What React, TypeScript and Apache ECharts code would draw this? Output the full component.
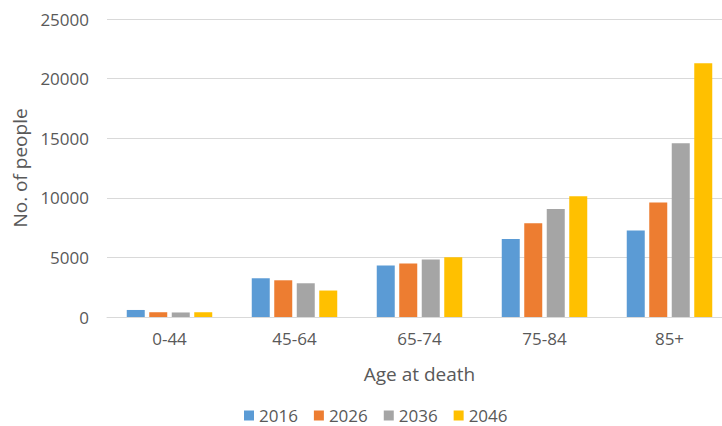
import React, { useEffect, useRef } from "react";
import * as echarts from "echarts";

const categories = ["0-44", "45-64", "65-74", "75-84", "85+"];
const seriesNames = ["2016", "2026", "2036", "2046"];
const values2016 = [590, 3250, 4310, 6540, 7250];
const values2026 = [400, 3080, 4480, 7860, 9600];
const values2036 = [380, 2830, 4820, 9060, 14570];
const values2046 = [400, 2220, 5010, 10120, 21280];
const colors = ["#5B9BD5", "#ED7D31", "#A5A5A5", "#FFC000"];
const FONT = "'Open Sans', sans-serif";

export default function App() {
  const ref = useRef<HTMLDivElement>(null);
  useEffect(() => {
    if (!ref.current) return;
    const chart = echarts.init(ref.current, undefined, { renderer: "svg" });
    const data = [values2016, values2026, values2036, values2046];
    chart.setOption({
      animation: false,
      textStyle: { fontFamily: FONT },
      grid: { left: 107, right: 0, top: 19, bottom: 109, containLabel: false },
      legend: {
        data: seriesNames,
        left: 239,
        top: 402,
        itemWidth: 10,
        itemHeight: 10,
        itemGap: 16,
        icon: "rect",
        textStyle: { color: "#595959", fontSize: 17, fontFamily: FONT },
      },
      xAxis: {
        type: "category",
        data: categories,
        name: "Age at death",
        nameLocation: "middle",
        nameGap: 47,
        nameTextStyle: { color: "#595959", fontSize: 19, fontFamily: FONT },
        axisLine: { lineStyle: { color: "#D9D9D9", width: 1 } },
        axisTick: { show: false },
        axisLabel: { color: "#595959", fontSize: 17, margin: 13, fontFamily: FONT },
      },
      yAxis: {
        type: "value",
        min: 0,
        max: 25000,
        interval: 5000,
        name: "No. of people",
        nameLocation: "middle",
        nameGap: 76,
        nameRotate: 90,
        nameTextStyle: { color: "#595959", fontSize: 19, fontFamily: FONT },
        axisLine: { show: false },
        axisTick: { show: false },
        axisLabel: {
          color: "#595959",
          fontSize: 17,
          margin: 18,
          fontFamily: FONT,
          formatter: (v: number) => String(v),
        },
        splitLine: { lineStyle: { color: "#D9D9D9", width: 1 } },
      },
      series: seriesNames.map((name, i) => ({
        name,
        type: "bar",
        data: data[i],
        barWidth: 18,
        barGap: "25%",
        itemStyle: { color: colors[i] },
      })),
    });
    return () => chart.dispose();
  }, []);
  return (
    <div
      style={{
        position: "absolute",
        left: 0,
        top: 0,
        width: 722,
        height: 426,
        overflow: "hidden",
      }}
    >
      <div ref={ref} style={{ width: 732, height: 426 }} />
    </div>
  );
}
